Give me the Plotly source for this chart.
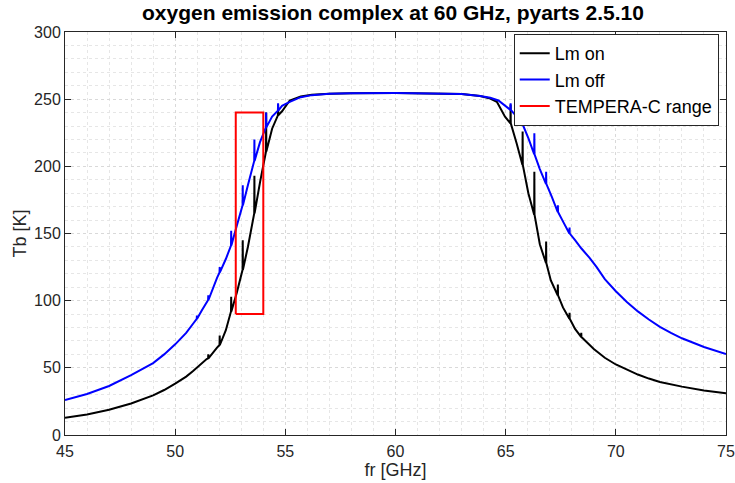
import plotly.graph_objects as go

# ---- data ----
freq_on = [45, 46, 47, 48, 49.0, 49.5, 50.0, 50.5, 50.8, 51.2, 51.43,
           51.495, 51.503, 51.511, 51.9,
           52.013, 52.021, 52.029, 52.3,
           52.534, 52.542, 52.55, 52.8,
           53.059, 53.067, 53.075, 53.3,
           53.588, 53.596, 53.604, 53.85,
           54.122, 54.130, 54.138, 54.4,
           54.663, 54.671, 54.679, 54.85,
           55.2, 55.7, 56.2, 57, 58, 60, 62, 63, 63.84, 64.3, 64.6, 64.97,
           65.216, 65.224, 65.232, 65.5,
           65.762, 65.770, 65.778, 66.03,
           66.294, 66.302, 66.31, 66.55,
           66.829, 66.837, 66.845, 67.05,
           67.361, 67.369, 67.377, 67.6,
           67.892, 67.900, 67.908, 68.15,
           68.423, 68.431, 68.439,
           69.0, 69.5, 70.0, 70.5, 71.0, 71.5, 72.0, 73.0, 74.0, 75.0]
tb_on = [12.9, 15.2, 18.8, 23.5, 29.5, 33.5, 38.2, 43.5, 47.5, 53.5, 56.5,
         57.0, 60.0, 57.0, 65.0,
         67.0, 74.0, 67.0, 78.0,
         92.0, 103.0, 92.0, 106.0,
         123.0, 145.0, 123.0, 140.0,
         165.0, 193.0, 165.0, 188.0,
         211.0, 240.0, 211.0, 228.0,
         238.0, 246.0, 238.0, 241.0,
         249.0, 252.0, 253.3, 254.0, 254.4, 254.5, 254.3, 253.8, 252.4, 250.5, 248.0, 237.0,
         232.0, 246.0, 232.0, 217.0,
         201.0, 226.0, 201.0, 180.0,
         164.0, 196.0, 164.0, 142.0,
         128.0, 144.0, 128.0, 115.0,
         104.0, 112.0, 104.0, 95.0,
         86.5, 91.0, 86.5, 79.0,
         73.0, 76.0, 73.0,
         64.0, 57.5, 52.5, 48.5, 45.0, 42.0, 39.5, 36.0, 33.2, 31.0]

freq_off = [45, 46, 47, 48, 49.0, 49.5, 50.0, 50.5, 50.82,
            50.979, 50.987, 50.995, 51.2, 51.43,
            51.495, 51.503, 51.511, 51.9,
            52.013, 52.021, 52.029, 52.3,
            52.534, 52.542, 52.55, 52.8,
            53.059, 53.067, 53.075, 53.3,
            53.588, 53.596, 53.604, 53.85,
            54.122, 54.130, 54.138, 54.4,
            54.663, 54.671, 54.679, 54.85,
            55.2, 55.7, 56.2, 57, 58, 60, 62, 63, 63.84, 64.3, 64.67, 65.0,
            65.216, 65.224, 65.232, 65.5,
            65.762, 65.770, 65.778, 66.03,
            66.294, 66.302, 66.31, 66.55,
            66.829, 66.837, 66.845, 67.1,
            67.361, 67.369, 67.377, 67.6,
            67.892, 67.900, 67.908, 68.15,
            68.43, 68.8, 69.13, 69.5, 70.0, 70.5, 71.0, 71.5, 72.0, 72.5, 73.0, 74.0, 75.0]
tb_off = [26.1, 30.5, 36.5, 44.5, 53.5, 60.0, 67.5, 76.0, 83.0,
          86.5, 89.0, 86.5, 92.5, 98.5,
          100.5, 104.0, 100.5, 117.0,
          121.0, 125.0, 121.0, 131.0,
          141.0, 152.0, 141.0, 156.0,
          171.0, 186.0, 171.0, 186.0,
          204.0, 220.0, 204.0, 218.0,
          229.0, 240.0, 229.0, 237.0,
          241.5, 247.0, 241.5, 245.0,
          248.0, 251.5, 253.0, 254.0, 254.4, 254.5, 254.3, 253.8, 252.4, 251.0, 249.0, 245.0,
          242.0, 247.0, 242.0, 237.0,
          231.0, 239.5, 231.0, 221.0,
          209.0, 224.6, 209.0, 198.0,
          187.0, 196.0, 187.0, 177.0,
          166.0, 171.0, 166.0, 159.0,
          150.0, 154.5, 150.0, 145.0,
          139.0, 132.0, 125.0, 116.0, 107.0, 99.0, 92.0, 86.0, 80.5, 76.0, 72.0, 65.5, 60.3]

tempera_f = [52.75, 54.0, 54.0, 52.75, 52.75]
tempera_tb = [90, 90, 240, 240, 90]

FONT = "Liberation Sans, Arial, Helvetica, sans-serif"
AX = "#262626"

fig = go.Figure()
fig.add_trace(go.Scatter(x=freq_on, y=tb_on, mode="lines", name="Lm on",
                         line=dict(color="black", width=2)))
fig.add_trace(go.Scatter(x=freq_off, y=tb_off, mode="lines", name="Lm off",
                         line=dict(color="blue", width=2)))
fig.add_trace(go.Scatter(x=tempera_f, y=tempera_tb, mode="lines", name="TEMPERA-C range",
                         line=dict(color="red", width=2)))

axis_common = dict(
    showline=True, linecolor=AX, linewidth=1, mirror="ticks",
    ticks="inside", ticklen=6, tickcolor=AX, tickwidth=1,
    showgrid=True, gridcolor="#d9d9d9", griddash="dot", gridwidth=1,
    zeroline=False, automargin=False, ticklabeloverflow="allow",
    tickfont=dict(family=FONT, size=16, color=AX),
)

fig.update_xaxes(range=[45, 75], dtick=5, tick0=45,
                 minor=dict(dtick=1, showgrid=True, gridcolor="#e6e6e6", griddash="dot", ticks=""),
                 title=dict(text="fr [GHz]", font=dict(family=FONT, size=18, color=AX), standoff=2),
                 ticklabelstandoff=2,
                 **axis_common)
fig.update_yaxes(range=[0, 300], dtick=50, tick0=0,
                 minor=dict(dtick=10, showgrid=True, gridcolor="#e6e6e6", griddash="dot", ticks=""),
                 title=dict(text="Tb [K]", font=dict(family=FONT, size=18, color=AX), standoff=2),
                 **axis_common)

fig.update_layout(
    width=735, height=483,
    margin=dict(l=65, r=9, t=32, b=48),
    paper_bgcolor="white", plot_bgcolor="white",
    title=dict(text="<b>oxygen emission complex at 60 GHz, pyarts 2.5.10</b>",
               x=393 / 735, xanchor="center", y=1 - 13 / 483, yanchor="middle",
               font=dict(family=FONT, size=21, color="black")),
    showlegend=True,
    legend=dict(x=0.989, y=0.995, xanchor="right", yanchor="top",
                bgcolor="white", bordercolor=AX, borderwidth=1,
                font=dict(family=FONT, size=18, color="black"),
                tracegroupgap=0, itemwidth=30),
)

fig.write_html("out.html")
